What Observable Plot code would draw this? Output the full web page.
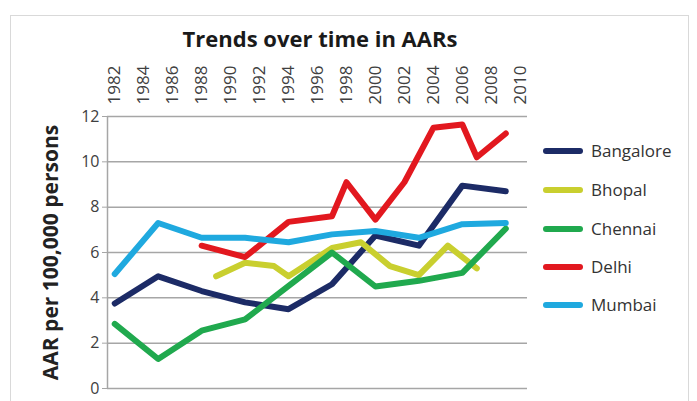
<!DOCTYPE html>
<html>
<head>
<meta charset="utf-8">
<script src="https://cdn.jsdelivr.net/npm/d3@7"></script>
<script src="https://cdn.jsdelivr.net/npm/@observablehq/plot@0.6"></script>
<style>
  html, body { margin: 0; padding: 0; background: #fff; }
  #wrap { position: relative; width: 697px; height: 401px; overflow: hidden; font-family: "Open Sans", sans-serif; }
  #frame { position: absolute; left: 10px; top: 15px; width: 679px; height: 400px; border: 1px solid #d9d9d9; box-sizing: border-box; }
  #title { position: absolute; left: 0; top: 26px; width: 640px; text-align: center; font-size: 22px; line-height: 24px; font-weight: bold; color: #1a1a1a; }
  #chart { position: absolute; left: 0; top: 50px; }
  .leg { position: absolute; left: 543px; height: 20px; display: flex; align-items: center; }
  .sw { width: 40px; height: 6px; border-radius: 3px; margin-right: 8px; }
  .lt { font-size: 17px; color: #333; line-height: 20px; }
</style>
</head>
<body>
<div id="wrap">
  <div id="frame"></div>
  <div id="title"></div>
  <div id="chart"></div>
  <div id="legend"></div>
</div>
<script>
const titleText = "Trends over time in AARs";
const yLabel = "AAR per 100,000 persons";
const cities = ["Bangalore", "Bhopal", "Chennai", "Delhi", "Mumbai"];
const cityColors = ["#1c2b66", "#c9cf2f", "#20a94e", "#e2181f", "#1fa9df"];
const yTicks = [0, 2, 4, 6, 8, 10, 12];
const yearTicks = [1982, 1984, 1986, 1988, 1990, 1992, 1994, 1996, 1998, 2000, 2002, 2004, 2006, 2008, 2010];

const bangaloreYears = [1982, 1985, 1988, 1991, 1994, 1997, 2000, 2003, 2006, 2009];
const bangaloreValues = [3.75, 4.95, 4.3, 3.8, 3.5, 4.6, 6.75, 6.3, 8.95, 8.7];
const bhopalYears = [1989, 1991, 1993, 1994, 1997, 1999, 2001, 2003, 2005, 2007];
const bhopalValues = [4.95, 5.55, 5.4, 4.95, 6.2, 6.45, 5.4, 5.0, 6.3, 5.3];
const chennaiYears = [1982, 1985, 1988, 1991, 1997, 2000, 2003, 2006, 2009];
const chennaiValues = [2.85, 1.3, 2.55, 3.05, 6.0, 4.5, 4.75, 5.1, 7.05];
const delhiYears = [1988, 1991, 1994, 1997, 1998, 2000, 2002, 2004, 2006, 2007, 2009];
const delhiValues = [6.3, 5.8, 7.35, 7.6, 9.1, 7.45, 9.1, 11.5, 11.65, 10.2, 11.25];
const mumbaiYears = [1982, 1985, 1988, 1991, 1994, 1997, 2000, 2003, 2006, 2009];
const mumbaiValues = [5.05, 7.3, 6.65, 6.65, 6.45, 6.8, 6.95, 6.65, 7.25, 7.3];

const seriesYears = [bangaloreYears, bhopalYears, chennaiYears, delhiYears, mumbaiYears];
const seriesValues = [bangaloreValues, bhopalValues, chennaiValues, delhiValues, mumbaiValues];
const rows = [];
cities.forEach((c, i) => seriesYears[i].forEach((yr, j) => rows.push({city: c, year: yr, value: seriesValues[i][j]})));

document.getElementById("title").textContent = titleText;

const chart = Plot.plot({
  width: 697,
  height: 351,
  marginLeft: 107,
  marginRight: 170,
  marginTop: 66,
  marginBottom: 13,
  style: {fontFamily: "'Open Sans', sans-serif", background: "transparent", color: "#333"},
  x: {domain: [1981.5, 2010.5], axis: null},
  y: {domain: [0, 12], axis: null},
  color: {domain: cities, range: cityColors},
  marks: [
    Plot.ruleY(yTicks, {stroke: "#a6a6a6", strokeWidth: 1.5}),
    Plot.ruleX([1981.5], {stroke: "#a6a6a6", strokeWidth: 1.5}),
    Plot.axisY(yTicks, {label: null, tickSize: 5, tickPadding: 3, fontSize: 16, stroke: "#a6a6a6", fill: "#404040", tickFormat: d => String(d)}),
    Plot.text(yearTicks, {x: d => d, text: d => String(d), frameAnchor: "top", rotate: -90, textAnchor: "start", lineAnchor: "middle", dy: -12, fontSize: 17, fill: "#404040"}),
    Plot.text([yLabel], {frameAnchor: "left", rotate: -90, dx: -56, fontSize: 21, fontWeight: "bold", fill: "#222", textAnchor: "middle", lineAnchor: "middle"}),
    Plot.line(rows, {x: "year", y: "value", z: "city", stroke: "city", strokeWidth: 6, strokeLinejoin: "round", strokeLinecap: "round"})
  ]
});
document.getElementById("chart").appendChild(chart);

const legendTops = [141, 180, 219, 257, 295];
const legend = document.getElementById("legend");
cities.forEach((c, i) => {
  const row = document.createElement("div");
  row.className = "leg";
  row.style.top = legendTops[i] + "px";
  const sw = document.createElement("div");
  sw.className = "sw";
  sw.style.background = cityColors[i];
  const t = document.createElement("span");
  t.className = "lt";
  t.textContent = c;
  row.appendChild(sw);
  row.appendChild(t);
  legend.appendChild(row);
});
</script>
</body>
</html>
